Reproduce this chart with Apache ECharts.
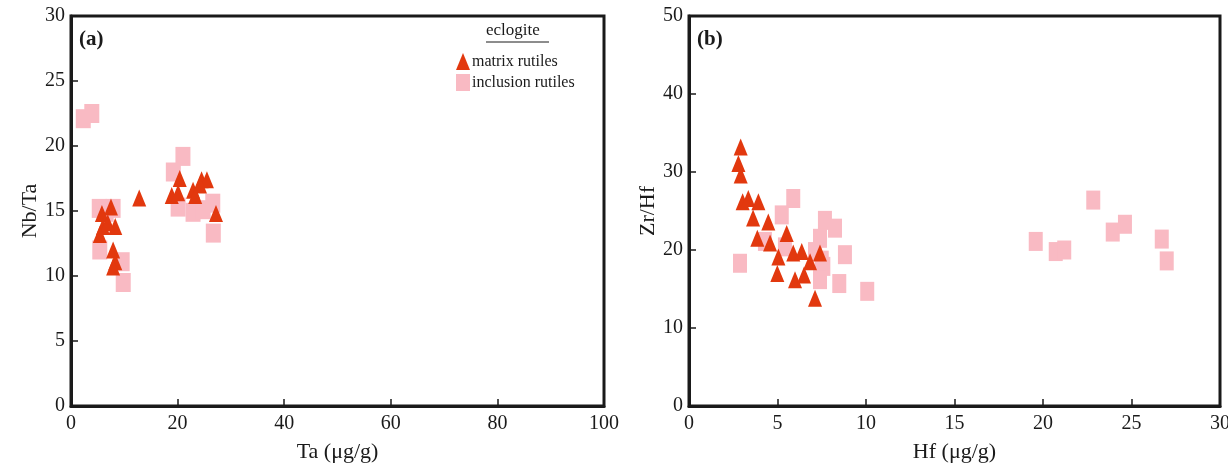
<!DOCTYPE html>
<html>
<head>
<meta charset="utf-8">
<script src="https://cdn.jsdelivr.net/npm/echarts@6/dist/echarts.min.js"></script>
<style>
html,body{margin:0;padding:0;background:#fff;}
#chart{width:1228px;height:464px;}
</style>
</head>
<body>
<div id="chart"></div>
<script>
// ---- Data ----
// Panel (a): Ta (ug/g) vs Nb/Ta
var matrixA_Ta   = [5.8, 7.5, 6.0, 8.3, 6.9, 5.4, 7.9, 8.3, 7.9, 12.8, 20.4, 18.9, 20.1, 22.9, 23.3, 24.5, 25.5, 24.2, 27.2];
var matrixA_NbTa = [14.8, 15.3, 13.8, 13.8, 14.1, 13.2, 12.0, 11.1, 10.7, 16.0, 17.5, 16.2, 16.4, 16.6, 16.2, 17.4, 17.4, 17.0, 14.8];
var inclA_Ta     = [2.3, 3.9, 5.3, 7.9, 6.6, 5.4, 9.6, 9.8, 21.0, 19.2, 20.1, 22.9, 24.8, 26.6, 26.7];
var inclA_NbTa   = [22.1, 22.5, 15.2, 15.2, 14.9, 12.0, 11.1, 9.5, 19.2, 18.0, 15.3, 14.9, 15.1, 15.6, 13.3];
// Panel (b): Hf (ug/g) vs Zr/Hf
var matrixB_Hf   = [2.92, 2.79, 2.92, 3.03, 3.35, 3.92, 3.62, 4.48, 3.86, 4.58, 5.52, 5.05, 4.99, 5.89, 6.37, 5.99, 6.50, 6.84, 7.40, 7.12];
var matrixB_ZrHf = [33.2, 31.1, 29.6, 26.2, 26.6, 26.2, 24.1, 23.6, 21.5, 20.9, 22.1, 19.1, 17.0, 19.6, 19.8, 16.2, 16.8, 18.5, 19.6, 13.8];
var inclB_Hf     = [2.88, 5.89, 5.24, 7.68, 8.25, 7.40, 4.29, 5.42, 7.12, 7.50, 8.81, 7.59, 7.40, 8.49, 10.07, 19.59, 20.72, 21.2, 22.84, 23.94, 24.63, 26.71, 26.99];
var inclB_ZrHf   = [18.3, 26.6, 24.5, 23.8, 22.8, 21.5, 21.1, 20.4, 19.8, 18.7, 19.4, 17.9, 16.2, 15.7, 14.7, 21.1, 19.8, 20.0, 26.4, 22.3, 23.3, 21.4, 18.6];
// Axis ticks
var xTicksA = [0, 20, 40, 60, 80, 100];
var yTicksA = [0, 5, 10, 15, 20, 25, 30];
var xTicksB = [0, 5, 10, 15, 20, 25, 30];
var yTicksB = [0, 10, 20, 30, 40, 50];

function zip(a, b) { return a.map(function (v, i) { return [v, b[i]]; }); }

var FONT = '"Liberation Serif","DejaVu Serif",serif';
var RED = '#E2380E';
var PINK = '#F9BAC3';
var INK = '#1a1a1a';

function xAxisCfg(idx, ticks, name) {
  return {
    type: 'value', gridIndex: idx,
    min: ticks[0], max: ticks[ticks.length - 1], interval: ticks[1] - ticks[0],
    name: name, nameLocation: 'middle', nameGap: 35,
    nameTextStyle: { fontFamily: FONT, fontSize: 22, color: INK },
    axisLine: { show: true, onZero: false, lineStyle: { color: INK, width: 3 } },
    axisTick: { show: true, inside: true, length: 7, lineStyle: { color: INK, width: 1.5 } },
    axisLabel: { fontFamily: FONT, fontSize: 20, color: INK, margin: 8 },
    splitLine: { show: false }
  };
}
function yAxisCfg(idx, ticks, name) {
  return {
    type: 'value', gridIndex: idx,
    min: ticks[0], max: ticks[ticks.length - 1], interval: ticks[1] - ticks[0],
    name: name, nameLocation: 'middle', nameGap: 30,
    nameTextStyle: { fontFamily: FONT, fontSize: 22, color: INK },
    axisLine: { show: true, onZero: false, lineStyle: { color: INK, width: 3 } },
    axisTick: { show: true, inside: true, length: 7, lineStyle: { color: INK, width: 1.5 } },
    axisLabel: { fontFamily: FONT, fontSize: 20, color: INK, margin: 6 },
    splitLine: { show: false }
  };
}

var chart = echarts.init(document.getElementById('chart'), null, { renderer: 'canvas' });
chart.setOption({
  animation: false,
  backgroundColor: '#fff',
  grid: [
    { left: 71, top: 16, width: 533, height: 390, show: true, borderColor: INK, borderWidth: 3, backgroundColor: 'transparent',
      containLabel: false, outerBoundsMode: 'none' },
    { left: 689, top: 16, width: 531, height: 390, show: true, borderColor: INK, borderWidth: 3, backgroundColor: 'transparent',
      containLabel: false, outerBoundsMode: 'none' }
  ],
  xAxis: [xAxisCfg(0, xTicksA, 'Ta (\u03bcg/g)'), xAxisCfg(1, xTicksB, 'Hf (\u03bcg/g)')],
  yAxis: [yAxisCfg(0, yTicksA, 'Nb/Ta'), yAxisCfg(1, yTicksB, 'Zr/Hf')],
  legend: {
    data: ['matrix rutiles', 'inclusion rutiles'],
    orient: 'vertical', left: 451, top: 48,
    itemWidth: 14, itemHeight: 17, itemGap: 4,
    textStyle: { fontFamily: FONT, fontSize: 16, color: INK, padding: [0, 0, 0, -3] }
  },
  graphic: [
    { type: 'text', left: 486, top: 22, style: { text: 'eclogite', font: '17px ' + FONT, fill: INK } },
    { type: 'line', shape: { x1: 486, y1: 42, x2: 549, y2: 42 }, style: { stroke: INK, lineWidth: 1 } },
    { type: 'text', left: 79, top: 29, style: { text: '(a)', font: 'bold 21px ' + FONT, fill: INK } },
    { type: 'text', left: 697, top: 29, style: { text: '(b)', font: 'bold 21px ' + FONT, fill: INK } }
  ],
  series: [
    { name: 'inclusion rutiles', type: 'scatter', xAxisIndex: 0, yAxisIndex: 0, symbol: 'rect', symbolSize: [15, 19],
      itemStyle: { color: PINK, opacity: 1 }, data: zip(inclA_Ta, inclA_NbTa), z: 2 },
    { name: 'matrix rutiles', type: 'scatter', xAxisIndex: 0, yAxisIndex: 0, symbol: 'triangle', symbolSize: [14, 17],
      itemStyle: { color: RED, opacity: 1 }, data: zip(matrixA_Ta, matrixA_NbTa), z: 3 },
    { name: 'inclusion rutiles', type: 'scatter', xAxisIndex: 1, yAxisIndex: 1, symbol: 'rect', symbolSize: [14, 19],
      itemStyle: { color: PINK, opacity: 1 }, data: zip(inclB_Hf, inclB_ZrHf), z: 2 },
    { name: 'matrix rutiles', type: 'scatter', xAxisIndex: 1, yAxisIndex: 1, symbol: 'triangle', symbolSize: [14, 17],
      itemStyle: { color: RED, opacity: 1 }, data: zip(matrixB_Hf, matrixB_ZrHf), z: 3 }
  ]
});
</script>
</body>
</html>
